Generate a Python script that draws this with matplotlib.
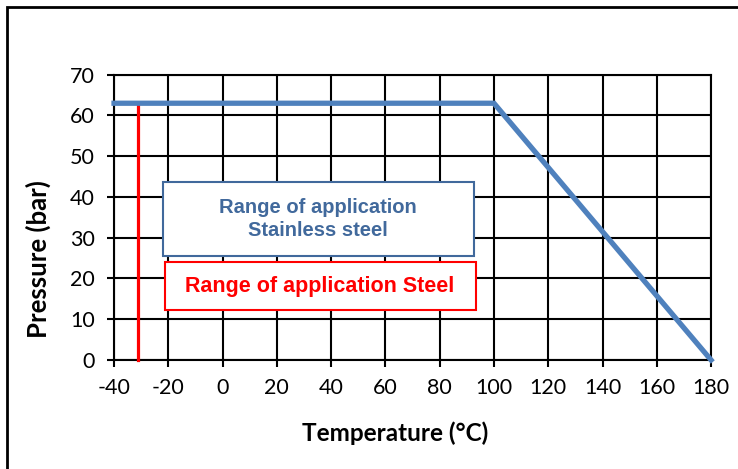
import matplotlib.pyplot as plt
from matplotlib.patches import Rectangle

# data
temp_stainless = [-40, 100, 180]
press_stainless = [63, 63, 0]
temp_steel = [-31, -31]
press_steel = [0, 63]
xticks = list(range(-40, 181, 20))
yticks = list(range(0, 71, 10))

plt.rcParams['font.family'] = ['Lato', 'DejaVu Sans']
plt.rcParams['axes.unicode_minus'] = False

fig = plt.figure(figsize=(7.38, 4.69), dpi=100)
ax = fig.add_axes([0.1545, 0.2324, 0.809, 0.6083])

ax.plot(temp_steel, press_steel, color='#ff0000', lw=2.3, zorder=3, clip_on=False)
ax.plot(temp_stainless, press_stainless, color='#4f81bd', lw=3.8, zorder=4,
        solid_joinstyle='miter', clip_on=False)

ax.set_xlim(-40, 180)
ax.set_ylim(0, 70)
ax.set_xticks(xticks)
ax.set_yticks(yticks)
ax.tick_params(labelsize=15.5, length=5, width=1.5, color='black')
ax.tick_params(axis='x', pad=8)
ax.tick_params(axis='y', pad=9)
ax.grid(True, color='black', lw=1.5)
ax.set_axisbelow(True)
for s in ax.spines.values():
    s.set_linewidth(1.5)

ax.set_xlabel('Temperature (°C)', fontsize=17.5, fontweight='bold')
ax.set_ylabel('Pressure (bar)', fontsize=18.5, fontweight='bold')
ax.xaxis.set_label_coords(0.471, -0.216)
ax.yaxis.set_label_coords(-0.106, 0.355)

# text boxes
ax.add_patch(Rectangle((0.0816, 0.363), 0.5206, 0.262, transform=ax.transAxes,
                       facecolor='white', edgecolor='#41699c', lw=1.5, zorder=5))
ax.text(0.342, 0.494, 'Range of application\nStainless steel', transform=ax.transAxes,
        ha='center', va='center', fontsize=14.5, fontweight='bold', color='#41699c',
        family=['Liberation Sans'], linespacing=1.3, zorder=6)
ax.add_patch(Rectangle((0.0850, 0.177), 0.5206, 0.166, transform=ax.transAxes,
                       facecolor='white', edgecolor='#ff0000', lw=1.5, zorder=5))
ax.text(0.345, 0.258, 'Range of application Steel', transform=ax.transAxes,
        ha='center', va='center', fontsize=15.5, fontweight='bold', color='#ff0000',
        family=['Liberation Sans Narrow', 'Liberation Sans'], zorder=6)

# outer frame
fig.patches.append(Rectangle((0.009, -0.1), 1.2, 1.1 - 0.015, transform=fig.transFigure,
                             fill=False, edgecolor='black', lw=2, clip_on=False))

plt.savefig('out.png', dpi=100)
